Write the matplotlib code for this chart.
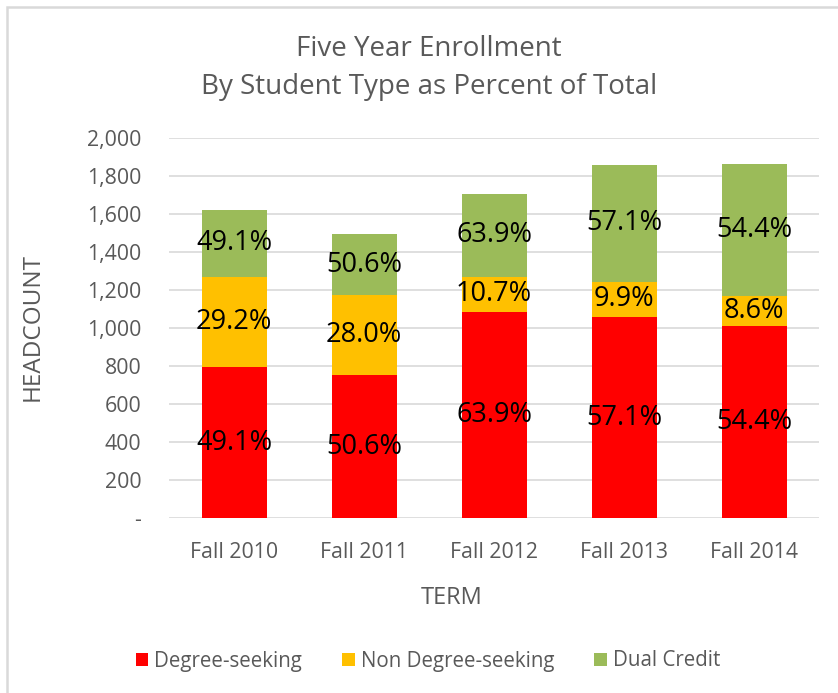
import matplotlib
matplotlib.use('Agg')
import matplotlib.pyplot as plt
import matplotlib.patches as patches
from matplotlib.ticker import FuncFormatter

# Datos
terminos = ['Fall 2010', 'Fall 2011', 'Fall 2012', 'Fall 2013', 'Fall 2014']
degree_seeking = [795, 754, 1087, 1060, 1012]
non_degree = [475, 420, 185, 186, 160]
dual_credit = [353, 321, 435, 612, 693]

etiquetas_degree = ['49.1%', '50.6%', '63.9%', '57.1%', '54.4%']
etiquetas_non = ['29.2%', '28.0%', '10.7%', '9.9%', '8.6%']
etiquetas_dual = ['49.1%', '50.6%', '63.9%', '57.1%', '54.4%']

plt.rcParams['font.family'] = ['Open Sans', 'DejaVu Sans']
gris = '#595959'
W, H = 838, 693

fig = plt.figure(figsize=(W / 100, H / 100), dpi=100)
ax = fig.add_axes([169 / W, 1 - 518.3 / H, 650 / W, 380 / H])

x = range(len(terminos))
base2 = [a + b for a, b in zip(degree_seeking, non_degree)]

b1 = ax.bar(x, degree_seeking, width=0.5, color='#FF0000', label='Degree-seeking', zorder=3)
b2 = ax.bar(x, non_degree, width=0.5, bottom=degree_seeking, color='#FFC000',
            label='Non Degree-seeking', zorder=3)
b3 = ax.bar(x, dual_credit, width=0.5, bottom=base2, color='#9BBB59',
            label='Dual Credit', zorder=3)

ax.bar_label(b1, labels=etiquetas_degree, label_type='center', fontsize=19.5, color='black')
ax.bar_label(b2, labels=etiquetas_non, label_type='center', fontsize=19.5, color='black')
ax.bar_label(b3, labels=etiquetas_dual, label_type='center', fontsize=19.5, color='black')

ax.set_xlim(-0.5, len(terminos) - 0.5)
ax.set_ylim(0, 2000)
ax.set_yticks(range(0, 2001, 200))
ax.yaxis.set_major_formatter(FuncFormatter(lambda v, p: '-' if v == 0 else f'{int(v):,}'))
ax.set_xticks(list(x))
ax.set_xticklabels(terminos)
ax.tick_params(axis='both', length=0, labelsize=15.3, labelcolor=gris)
ax.tick_params(axis='y', pad=20)
ax.tick_params(axis='x', pad=17)

ax.grid(axis='y', color='#d9d9d9', linewidth=1.2, zorder=0)
for s in ax.spines.values():
    s.set_visible(False)

# Títulos de ejes (posición como en Excel)
fig.text(452 / W, 1 - 598 / H, 'TERM', ha='center', va='center', fontsize=17, color=gris)
fig.text(33 / W, 1 - 327 / H, 'HEADCOUNT', ha='center', va='center', rotation=90,
         fontsize=17.5, color=gris)

# Título en dos líneas
fig.text(0.5 + 10 / W, 1 - 56 / H, 'Five Year Enrollment', ha='center', va='baseline',
         fontsize=20, color=gris)
fig.text(0.5 + 10 / W, 1 - 94 / H, 'By Student Type as Percent of Total', ha='center',
         va='baseline', fontsize=20, color=gris)

leg = fig.legend(handles=[b1, b2, b3], loc='center', bbox_to_anchor=(428 / W, 1 - 661 / H),
                 ncol=3, frameon=False, fontsize=14.8, handlelength=0.6, handleheight=0.6,
                 handletextpad=0.3, columnspacing=1.95)
for t in leg.get_texts():
    t.set_color(gris)

# Borde del área del gráfico
fig.patches.append(patches.Rectangle((7 / W, -0.1), 1.2, 1 - 7 / H + 0.1,
                                     transform=fig.transFigure, fill=False,
                                     edgecolor='#d9d9d9', linewidth=1.8))

fig.savefig('out.png', dpi=100)
